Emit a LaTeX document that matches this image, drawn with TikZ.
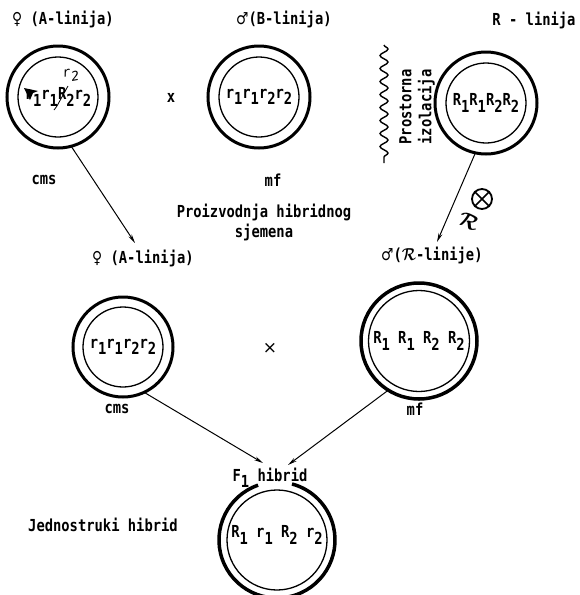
\documentclass[tikz,border=0pt]{standalone}
\usepackage{bm}
\usepackage{fontspec}
\usepackage{graphicx}
\setmainfont{DejaVu Sans Mono}
\newfontfamily\symf{DejaVu Sans}
\usetikzlibrary{arrows.meta,decorations.pathmorphing,calc}
\newcommand\sbs[1]{\raisebox{-0.38em}{#1}}
\newcommand\T[1]{\scalebox{1}[1.2]{#1}}
\begin{document}
\begin{tikzpicture}[x=1pt,y=-1pt,
  lbl/.style={font=\bfseries\fontsize{13.8}{20}\selectfont, inner sep=0pt},
  outer/.style={circle, draw, line width=3pt, inner sep=0pt, outer sep=0pt, minimum size=#1},
  inner/.style={circle, draw, line width=1.3pt, inner sep=0pt, outer sep=0pt, minimum size=#1,
                font=\bfseries\fontsize{13.8}{16}\selectfont},
  arr/.style={line width=1pt, -{Stealth[length=9pt,width=4pt]}}]
\useasboundingbox (0,0) rectangle (579,595);

% ---- top row
\node[lbl, anchor=west] (fA) at (12,19) {\T{{\symf ♀} (A-linija)}};
\node[outer=102] (tl) at (58,97) {};
\node[inner=80] (tlin) at (58,97) {\T{r\sbs1r\sbs1R\sbs2r\sbs2}};
\node[font=\itshape\fontsize{13}{13}\selectfont, rotate=10, inner sep=0pt] (hw) at (71,75) {r\sbs2};
\draw[line width=0.8pt] (54,110) -- (57,106) -- (68,86);
\fill (24,88) -- (38,91) -- (33,93) -- (30,100) -- cycle;
\node[lbl] (x1) at (171,98) {\T{x}};
\node[lbl] (cms1) at (44,180) {\T{cms}};

\node[lbl, anchor=west] (mB) at (236,19) {\T{{\symf ♂}(B-linija)}};
\node[outer=102] (tm) at (259,97) {};
\node[inner=80] (tmin) at (259,97) {\T{r\sbs1r\sbs1r\sbs2r\sbs2}};
\node[lbl] (mf1) at (273,180) {\T{mf}};

\draw[line width=1.4pt, decorate, decoration={snake, amplitude=4pt, segment length=13pt}] (384,45) -- (384,163);
\node[lbl, rotate=90, align=center] (iso) at (417,107) {\T{Prostorna}\\\T{izolacija}};

\node[lbl] (Rl) at (534,20) {\T{R - linija}};
\node[outer=102] (tr) at (486,103) {};
\node[inner=80] (trin) at (486,103) {\T{R\sbs1R\sbs1R\sbs2R\sbs2}};

\node[lbl, align=center] (prod) at (264,222) {\T{Proizvodnja hibridnog}\\\T{sjemena}};

\coordinate (e1) at (135,243);
\draw[arr] (tl.-75) -- (e1);
\coordinate (e2) at (437,242);
\draw[arr] (tr.-102) -- (e2);

\node[circle, draw, line width=1.8pt, minimum size=20, inner sep=0pt] (ox) at (482,199) {};
\draw[line width=1.5pt] (ox.45) -- (ox.225) (ox.135) -- (ox.-45);
\node[font=\fontsize{20}{20}\selectfont, rotate=-25, inner sep=0pt] (sR) at (469,221) {$\bm{\mathcal{R}}$};

% ---- middle row
\node[lbl, anchor=west] (fA2) at (92,258) {\T{{\symf ♀} (A-linija)}};
\node[outer=100] (ml) at (123,347) {};
\node[inner=80] (mlin) at (123,347) {\T{r\sbs1r\sbs1r\sbs2r\sbs2}};
\node[font=\symf\fontsize{17}{17}\selectfont, inner sep=0pt] (x2) at (270,348) {×};
\node[lbl] (cms2) at (117,409) {\T{cms}};

\node[lbl, anchor=west] (mR) at (381,255) {\T{{\symf ♂}($\bm{\mathcal{R}}$-linije)}};
\node[outer=116, line width=3.5pt] (mr) at (419,341) {};
\node[inner=101] (mrin) at (419,341) {\T{R\sbs1 R\sbs1 R\sbs2 R\sbs2}};
\node[lbl] (mf2) at (415,409) {\T{mf}};

\coordinate (e3) at (263,463);
\draw[arr] (ml.-65) -- (e3);
\coordinate (e4) at (288,465);
\draw[arr] (mr.-122) -- (e4);

% ---- bottom
\node[lbl] (F1) at (270,478) {\T{F\sbs1 hibrid}};
\node[lbl, anchor=west] (jed) at (28,525) {\T{Jednostruki hibrid}};
\node[inner=100] (bot) at (277,540) {};
\node[lbl] (botT) at (277,535) {\T{R\sbs1 r\sbs1 R\sbs2 r\sbs2}};
\node[circle, minimum size=116, inner sep=0pt, outer sep=0pt] (botout) at (277,540) {};
\draw[line width=3.5pt] (botout.109) arc[start angle=-109, end angle=-435, radius=58];
\end{tikzpicture}
\end{document}
